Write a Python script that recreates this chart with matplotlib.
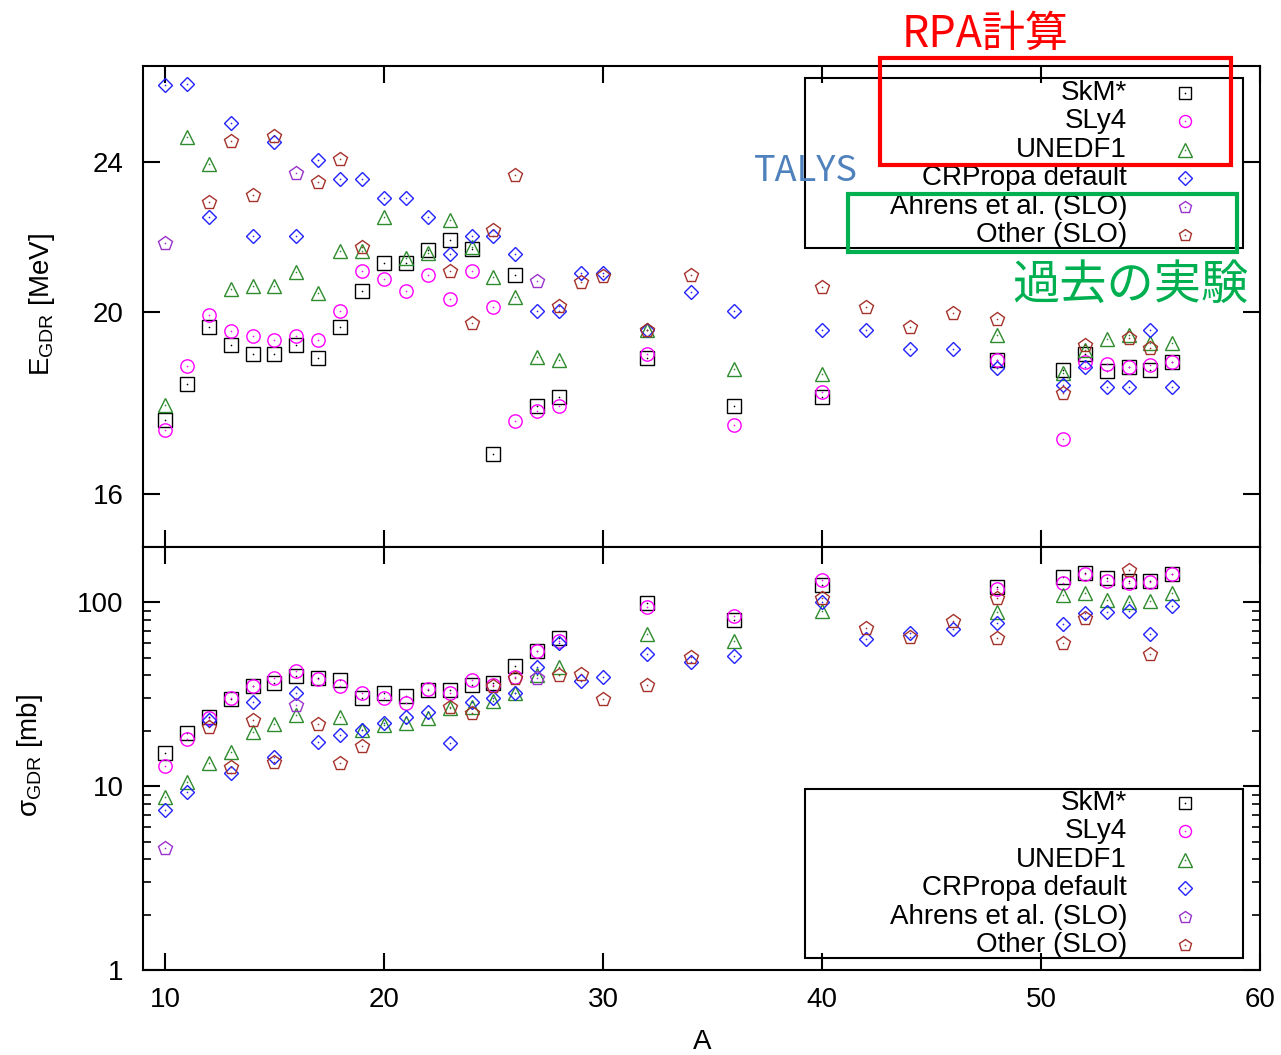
import matplotlib
matplotlib.use("Agg")
import matplotlib.pyplot as plt
from matplotlib.patches import Rectangle
from matplotlib.ticker import FixedLocator, NullLocator, NullFormatter, LogLocator

plt.rcParams['font.family'] = ['Liberation Sans', 'DejaVu Sans']

# GDR peak energy [MeV]
skm_A_e = [10, 11, 12, 13, 14, 15, 16, 17, 18, 19, 20, 21, 22, 23, 24, 25, 26, 27, 28,
           32, 36, 40, 48, 51, 52, 53, 54, 55, 56]
skm_e = [17.51, 18.3, 19.62, 19.2, 19.0, 19.0, 19.2, 18.9, 19.62, 20.52, 21.22, 21.22, 21.57,
         21.83, 21.6, 16.8, 20.92, 17.82, 18.02, 18.89, 17.81, 18.02, 18.85, 18.62, 19.0,
         18.6, 18.7, 18.62, 18.81]
sly4_A_e = [10, 11, 12, 13, 14, 15, 16, 17, 18, 19, 20, 21, 22, 23, 24, 25, 26, 27, 28,
            32, 36, 40, 48, 51, 52, 53, 54, 55, 56]
sly4_e = [17.3, 18.71, 19.92, 19.52, 19.41, 19.32, 19.42, 19.31, 20.01, 21.02, 20.81, 20.52,
          20.92, 20.31, 21.02, 20.12, 17.5, 17.72, 17.81, 19.0, 17.41, 18.13, 18.85, 17.11,
          18.81, 18.75, 18.7, 18.73, 18.8]
unedf_A_e = [10, 11, 12, 13, 14, 15, 16, 17, 18, 19, 20, 21, 22, 23, 24, 25, 26, 27, 28,
             32, 36, 40, 48, 51, 52, 53, 54, 55, 56]
unedf_e = [17.84, 24.75, 23.94, 20.55, 20.64, 20.64, 20.98, 20.45, 21.55, 21.55, 22.46, 21.35,
           21.48, 22.37, 21.65, 20.86, 20.37, 18.93, 18.84, 19.56, 18.64, 18.53, 19.43, 18.55,
           19.08, 19.33, 19.43, 19.24, 19.25]
crp_A_e = [10, 11, 12, 13, 14, 15, 16, 17, 18, 19, 20, 21, 22, 23, 24, 25, 26, 27, 28, 29, 30,
           32, 34, 36, 40, 42, 44, 46, 48, 51, 52, 53, 54, 55, 56]
crp_e = [26.38, 26.4, 22.46, 25.19, 21.94, 24.6, 21.94, 24.07, 23.52, 23.52, 22.98, 22.98,
         22.46, 21.45, 21.94, 21.93, 21.45, 20.01, 20.01, 20.96, 20.96, 19.56, 20.48, 20.01,
         19.56, 19.56, 19.1, 19.1, 18.66, 18.28, 18.69, 18.24, 18.24, 19.56, 18.24]
ahrens_A_e = [10, 16, 27]
ahrens_e = [21.74, 23.70, 20.75]
other_A_e = [12, 13, 14, 15, 17, 18, 19, 23, 24, 25, 26, 28, 29, 30, 32, 34, 40, 42, 44, 46,
             48, 51, 52, 54, 55]
other_e = [22.87, 24.63, 23.06, 24.79, 23.42, 24.1, 21.63, 21.02, 19.72, 22.1, 23.63, 20.13,
           20.73, 20.89, 19.56, 20.92, 20.61, 20.12, 19.63, 19.97, 19.81, 18.11, 19.21, 19.36,
           19.12]

# GDR cross section [mb]
skm_A_s = skm_A_e
skm_s = [15.2, 19.4, 23.9, 29.7, 35.2, 36.3, 39.9, 38.6, 37.8, 30.1, 32.0, 30.9, 33.3, 33.3,
         35.5, 36.3, 45.0, 54.6, 63.7, 98.8, 80.1, 125, 121.6, 136.8, 143.9, 135, 130, 131.3,
         142.6]
sly4_A_s = sly4_A_e
sly4_s = [12.9, 18.0, 23.4, 30.1, 35.2, 38.6, 42.5, 38.3, 35.1, 32.2, 30.1, 28.3, 33.6, 32.2,
          37.8, 35.7, 39.1, 54.6, 62.0, 94.7, 84.3, 132, 117.9, 126.9, 142, 131.3, 126.9,
          128.9, 142]
unedf_A_s = [10, 11, 12, 13, 14, 15, 16, 18, 19, 20, 21, 22, 23, 24, 25, 26, 27, 28,
             32, 36, 40, 48, 51, 52, 53, 54, 55, 56]
unedf_s = [8.76, 10.6, 13.4, 15.4, 19.8, 21.8, 24.4, 23.9, 20.2, 21.4, 22.1, 23.6, 26.5, 27.1,
           29.2, 32.0, 40.2, 44.3, 67.0, 61.8, 90.0, 88.9, 109.6, 112.8, 103, 100, 101.7, 112]
crp_A_s = crp_A_e
crp_s = [7.41, 9.33, 22.9, 11.8, 28.6, 14.5, 32.0, 17.3, 19.0, 20.2, 22.1, 23.9, 25.4, 17.2,
         28.8, 30.1, 32.2, 44.7, 60.3, 37.3, 39.1, 52.3, 47.2, 51.0, 100, 63.2, 67.8, 71.6,
         76.9, 76.2, 87.2, 88.9, 90.0, 67.3, 95.5]
ahrens_A_s = [10, 16, 27]
ahrens_s = [4.59, 27.6, 38.6]
other_A_s = [12, 13, 14, 15, 17, 18, 19, 23, 24, 25, 26, 28, 29, 30, 32, 34, 40, 42, 44, 46,
             48, 48, 51, 52, 54, 55]
other_s = [21.1, 12.7, 22.9, 13.6, 21.8, 13.4, 16.6, 27.1, 25.1, 35.1, 39.0, 40.2, 40.6, 29.7,
           35.5, 50.6, 105, 72.8, 65.0, 79.1, 105, 63.7, 60.3, 81.9, 150, 52.1]

labels = ['SkM*', 'SLy4', 'UNEDF1', 'CRPropa default', 'Ahrens et al. (SLO)', 'Other (SLO)']
markers = ['s', 'o', '^', 'D', 'p', 'p']
sizes = [9.6, 9.6, 10.4, 7.6, 10.2, 10.2]
colors = ['#000000', '#ff00ff', '#2e8b2e', '#2222ff', '#9932cc', '#a5322a']

top_data = [(skm_A_e, skm_e), (sly4_A_e, sly4_e), (unedf_A_e, unedf_e),
            (crp_A_e, crp_e), (ahrens_A_e, ahrens_e), (other_A_e, other_e)]
bot_data = [(skm_A_s, skm_s), (sly4_A_s, sly4_s), (unedf_A_s, unedf_s),
            (crp_A_s, crp_s), (ahrens_A_s, ahrens_s), (other_A_s, other_s)]

fig = plt.figure(figsize=(12.81, 10.55), dpi=100)
W, H = 1281.0, 1055.0
ax1 = fig.add_axes([143 / W, 1 - 547 / H, 1117 / W, 481 / H])
ax2 = fig.add_axes([143 / W, 1 - 970 / H, 1117 / W, 423 / H])


def plot_points(ax, data):
    for (xs, ys), m, ms, c in zip(data, markers, sizes, colors):
        ax.plot(xs, ys, linestyle='none', marker=m, ms=ms, mfc='none', mec=c, mew=1.0)
        ax.plot(xs, ys, linestyle='none', marker='o', ms=1.2, mfc=c, mec='none')


def draw_key(ax, y0, dy):
    # gnuplot-style key: right-aligned titles, sample point on the right
    for i, (lab, m, ms, c) in enumerate(zip(labels, markers, sizes, colors)):
        y = y0 - i * dy
        ax.text(0.881, y, lab, transform=ax.transAxes, ha='right', va='center', fontsize=20)
        ax.plot([0.933], [y], transform=ax.transAxes, linestyle='none', marker=m,
                ms=ms * 0.9, mfc='none', mec=c, mew=1.0, clip_on=False)
        ax.plot([0.933], [y], transform=ax.transAxes, linestyle='none', marker='o',
                ms=1.2, mfc=c, mec='none', clip_on=False)


plot_points(ax1, top_data)
plot_points(ax2, bot_data)

for ax in (ax1, ax2):
    ax.set_xlim(9, 60)
    ax.set_xticks([10, 20, 30, 40, 50, 60])
    ax.set_yscale('log')
    ax.tick_params(which='major', direction='in', top=True, right=True, length=12,
                   width=1.5, labelsize=20, pad=12)
    ax.tick_params(which='minor', direction='in', top=True, right=True, length=6, width=1.2)
    for s in ax.spines.values():
        s.set_linewidth(1.5)

ax1.set_ylim(15, 27)
ax1.yaxis.set_major_locator(FixedLocator([16, 20, 24]))
ax1.set_yticklabels(['16', '20', '24'])
ax1.yaxis.set_minor_locator(NullLocator())
ax1.tick_params(labelbottom=False)

ax2.set_ylim(1, 200)
ax2.yaxis.set_major_locator(FixedLocator([1, 10, 100]))
ax2.set_yticklabels(['1', '10', '100'])
ax2.yaxis.set_minor_locator(LogLocator(base=10, subs=range(2, 10)))
ax2.yaxis.set_minor_formatter(NullFormatter())
ax2.tick_params(axis='y', which='major', pad=14)
ax1.tick_params(axis='y', which='major', pad=14)

draw_key(ax1, (547 - 93) / 481, 28.4 / 481)
draw_key(ax2, (970 - 803) / 423, 28.4 / 423)
ax1.add_patch(Rectangle(((805 - 143) / 1117, (547 - 248) / 481), 438 / 1117, 170 / 481,
                        transform=ax1.transAxes, fill=False, lw=1.5, ec='black'))
ax2.add_patch(Rectangle(((805 - 143) / 1117, (970 - 958) / 423), 438 / 1117, 169 / 423,
                        transform=ax2.transAxes, fill=False, lw=1.5, ec='black'))

fig.text(42 / W, 1 - 305 / H, r'E$_\mathregular{GDR}$ [MeV]', rotation=90,
         ha='center', va='center', fontsize=20)
fig.text(30 / W, 1 - 755 / H, r'σ$_\mathregular{GDR}$ [mb]', rotation=90,
         ha='center', va='center', fontsize=20)
fig.text(702 / W, 1 - 1042 / H, 'A', ha='center', va='center', fontsize=20)

# highlight boxes and notes
cjk = ['Noto Sans CJK JP', 'DejaVu Sans']
fig.add_artist(Rectangle((880 / W, 1 - 165 / H), 351 / W, 107 / H, transform=fig.transFigure,
                         fill=False, ec='#ff0000', lw=3))
fig.add_artist(Rectangle((848 / W, 1 - 252 / H), 389 / W, 58 / H, transform=fig.transFigure,
                         fill=False, ec='#00b050', lw=3))
fig.text(985 / W, 1 - 35 / H, 'RPA計算', color='#ff0000', fontsize=31, family=cjk,
         ha='center', va='center')
fig.text(806 / W, 1 - 171 / H, 'TALYS', color='#4f81bd', fontsize=26, family=cjk,
         ha='center', va='center')
fig.text(1130 / W, 1 - 286 / H, '過去の実験', color='#00b050', fontsize=34, family=cjk,
         ha='center', va='center')

fig.savefig('out.png', dpi=100)
